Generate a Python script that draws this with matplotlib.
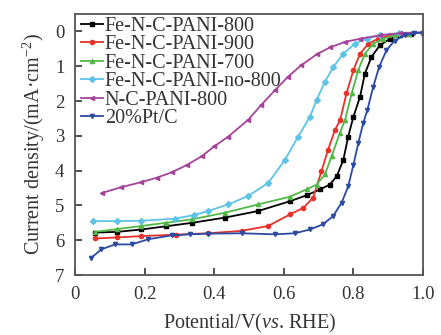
import matplotlib
matplotlib.use('Agg')
import matplotlib.pyplot as plt

plt.rcParams['font.family'] = ['Liberation Serif', 'DejaVu Serif']
plt.rcParams['mathtext.fontset'] = 'custom'
plt.rcParams['mathtext.rm'] = 'Liberation Serif'
plt.rcParams['mathtext.it'] = 'Liberation Serif:italic'

# data (potential in V, current density magnitude in mA cm^-2)
labels = ['Fe-N-C-PANI-800', 'Fe-N-C-PANI-900', 'Fe-N-C-PANI-700',
          'Fe-N-C-PANI-no-800', 'N-C-PANI-800', '20%Pt/C']
colors = ['#000000', '#e8302a', '#52b848', '#5cc4e6', '#a6449c', '#2b4aa2']
markers = ['s', 'o', '^', 'D', '<', 'v']

x_800 = [0.056, 0.12, 0.19, 0.26, 0.335, 0.43, 0.526, 0.617, 0.665, 0.704, 0.732, 0.752, 0.771, 0.785, 0.80,
         0.819, 0.833, 0.852, 0.876, 0.905, 0.934, 0.965, 1.0]
y_800 = [5.78, 5.76, 5.69, 5.60, 5.50, 5.35, 5.16, 4.88, 4.71, 4.54, 4.40, 4.16, 3.69, 3.02, 2.45,
         1.88, 1.21, 0.73, 0.40, 0.21, 0.11, 0.06, 0.03]

x_900 = [0.056, 0.12, 0.19, 0.29, 0.382, 0.478, 0.555, 0.617, 0.656, 0.684, 0.708, 0.727, 0.747, 0.762, 0.78,
         0.80, 0.819, 0.843, 0.871, 0.905, 0.95, 1.0]
y_900 = [5.95, 5.92, 5.88, 5.84, 5.80, 5.73, 5.59, 5.26, 5.07, 4.78, 4.02, 3.40, 2.83, 2.54, 1.78,
         1.11, 0.64, 0.35, 0.21, 0.11, 0.06, 0.03]

x_700 = [0.056, 0.12, 0.19, 0.26, 0.335, 0.43, 0.526, 0.617, 0.665, 0.694, 0.718, 0.737, 0.761, 0.776, 0.795,
         0.814, 0.833, 0.857, 0.886, 0.92, 0.96, 1.0]
y_700 = [5.76, 5.68, 5.59, 5.50, 5.40, 5.21, 4.97, 4.75, 4.54, 4.40, 4.11, 3.59, 2.92, 2.54, 1.78,
         1.11, 0.64, 0.35, 0.21, 0.11, 0.06, 0.03]

x_no = [0.051, 0.12, 0.19, 0.286, 0.34, 0.382, 0.44, 0.497, 0.555, 0.603, 0.641, 0.675, 0.694, 0.718, 0.742,
        0.771, 0.804, 0.838, 0.876, 0.93, 1.0]
y_no = [5.45, 5.45, 5.44, 5.38, 5.28, 5.16, 4.97, 4.73, 4.35, 3.69, 3.02, 2.45, 1.97, 1.45, 1.02,
        0.64, 0.35, 0.21, 0.11, 0.05, 0.03]

x_nc = [0.077, 0.13, 0.19, 0.235, 0.277, 0.32, 0.363, 0.40, 0.44, 0.497, 0.535, 0.574, 0.612, 0.65, 0.694,
        0.732, 0.776, 0.819, 0.876, 0.934, 1.0]
y_nc = [4.64, 4.48, 4.33, 4.20, 4.05, 3.84, 3.59, 3.30, 3.02, 2.54, 2.11, 1.69, 1.30, 0.97, 0.66,
        0.46, 0.30, 0.21, 0.11, 0.05, 0.03]

x_pt = [0.046, 0.075, 0.114, 0.162, 0.21, 0.277, 0.33, 0.382, 0.478, 0.574, 0.632, 0.675, 0.713, 0.742, 0.766,
        0.785, 0.80, 0.814, 0.828, 0.84, 0.857, 0.874, 0.895, 0.919, 0.948, 0.975, 1.0]
y_pt = [6.50, 6.26, 6.12, 6.12, 5.97, 5.86, 5.83, 5.81, 5.80, 5.83, 5.80, 5.69, 5.54, 5.30, 4.92,
        4.45, 3.83, 3.21, 2.64, 2.26, 1.59, 1.02, 0.54, 0.26, 0.11, 0.05, 0.03]

xs = [x_800, x_900, x_700, x_no, x_nc, x_pt]
ys = [y_800, y_900, y_700, y_no, y_nc, y_pt]

xticks = [0, 0.2, 0.4, 0.6, 0.8, 1.0]
xticklabels = ['0', '0.2', '0.4', '0.6', '0.8', '1.0']
yticks = [0, 1, 2, 3, 4, 5, 6, 7]

fig = plt.figure(figsize=(4.41, 3.35), dpi=100)
fig.set_facecolor('w')
ax = fig.add_axes([0.171, 0.179, 0.788, 0.779])

for x, y, c, m, lab in zip(xs, ys, colors, markers, labels):
    ax.plot(x, y, '-', color=c, marker=m, markersize=3, linewidth=1.3, label=lab)

ax.set_xlim(0, 1.0)
ax.set_ylim(7, -0.5)
ax.set_xticks(xticks)
ax.set_xticklabels(xticklabels)
ax.set_yticks(yticks)
ax.tick_params(direction='in', length=5, width=1.2, labelsize=13.5, colors='#333333',
               labelcolor='#333333', top=False, right=False)
ax.tick_params(axis='x', pad=8)
ax.tick_params(axis='y', pad=8)
for sp in ax.spines.values():
    sp.set_linewidth(1.3)
    sp.set_color('#555555')

ax.set_xlabel('Potential/V($\\mathit{vs}$. RHE)', fontsize=14.5, color='#333333', labelpad=6)
ax.set_ylabel('Current density/(mA·cm$^{-2}$)', fontsize=14.5, color='#333333', labelpad=6)

leg = ax.legend(loc='upper left', bbox_to_anchor=(0.015, 0.99), frameon=False,
                fontsize=14.5, labelspacing=-0.03, handlelength=1.1, handletextpad=0.1,
                borderpad=0, borderaxespad=0)
for t in leg.get_texts():
    t.set_color('#333333')

fig.savefig('out.png', dpi=100)
